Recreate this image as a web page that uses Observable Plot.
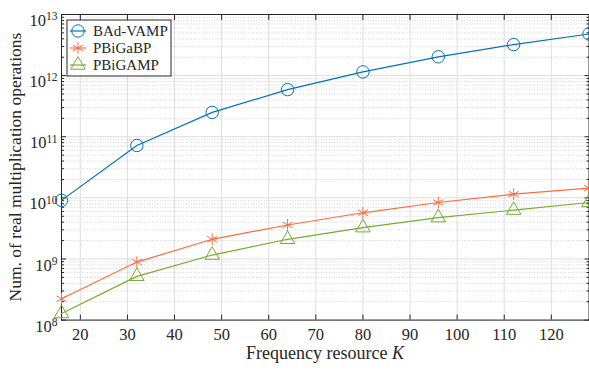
<!DOCTYPE html>
<html>
<head>
<meta charset="utf-8">
<script src="https://cdn.jsdelivr.net/npm/d3@7"></script>
<script src="https://cdn.jsdelivr.net/npm/@observablehq/plot@0.6"></script>
<style>
  html, body { margin: 0; padding: 0; background: #fff; }
</style>
</head>
<body>
<div id="chart"></div>
<script>
const K = [16, 32, 48, 64, 80, 96, 112, 128];
const badvamp = [9.1e9, 7.2e10, 2.5e11, 5.9e11, 1.15e12, 2.03e12, 3.22e12, 4.8e12];
const pbigabp = [2.23e8, 8.9e8, 2.1e9, 3.6e9, 5.7e9, 8.4e9, 1.15e10, 1.44e10];
const pbigamp = [1.28e8, 5.2e8, 1.16e9, 2.1e9, 3.25e9, 4.75e9, 6.3e9, 8.4e9];
const seriesNames = ["BAd-VAMP", "PBiGaBP", "PBiGAMP"];
const seriesColors = ["#0072bd", "#ff6a3d", "#77ac30"];
const seriesSymbols = ["circle", "asterisk", "triangle"];
const xTicks = [20, 30, 40, 50, 60, 70, 80, 90, 100, 110, 120];
const yMajor = [1e8, 1e9, 1e10, 1e11, 1e12, 1e13];
const yMinor = [];
for (let e = 8; e < 13; e++) for (let m = 2; m <= 9; m++) yMinor.push(m * Math.pow(10, e));

const seriesValues = [badvamp, pbigabp, pbigamp];
const data = [];
seriesValues.forEach((vals, i) => vals.forEach((v, j) => data.push({k: K[j], v, s: seriesNames[i]})));

const boxColor = "#262626";
const markerR = [6.2, 5.5, 5.4];
const fontStack = "'Liberation Serif', 'Times New Roman', serif";

const marks = [
  Plot.ruleY(yMinor, {stroke: "#c8c8c8", strokeDasharray: "1,1.6", strokeWidth: 0.8}),
  Plot.ruleY(yMajor, {stroke: "#dedede", strokeWidth: 1}),
  Plot.ruleX(xTicks, {stroke: "#dedede", strokeWidth: 1}),
  Plot.frame({stroke: boxColor, strokeWidth: 1}),
  // tick labels
  Plot.axisX({ticks: xTicks, tickSize: 0, tickPadding: 8, label: null, tickFormat: d => String(d)}),
  Plot.axisY({ticks: yMajor, tickSize: 0, tickPadding: 4, label: null, tickFormat: d => "10^" + Math.round(Math.log10(d))}),
  // inward ticks
  Plot.axisX({ticks: xTicks, anchor: "bottom", tickSize: -5, tickFormat: () => "", label: null, stroke: boxColor}),
  Plot.axisX({ticks: xTicks, anchor: "top", tickSize: -5, tickFormat: () => "", label: null, stroke: boxColor}),
  Plot.axisY({ticks: yMajor, anchor: "left", tickSize: -5, tickFormat: () => "", label: null, stroke: boxColor}),
  Plot.axisY({ticks: yMajor, anchor: "right", tickSize: -5, tickFormat: () => "", label: null, stroke: boxColor}),
  Plot.axisY({ticks: yMinor, anchor: "left", tickSize: -3, tickFormat: () => "", label: null, stroke: boxColor}),
  Plot.axisY({ticks: yMinor, anchor: "right", tickSize: -3, tickFormat: () => "", label: null, stroke: boxColor}),
];
seriesNames.forEach((name, i) => {
  const d = data.filter(r => r.s === name);
  marks.push(Plot.line(d, {x: "k", y: "v", stroke: seriesColors[i], strokeWidth: 1.2}));
  marks.push(Plot.dot(d, {x: "k", y: "v", stroke: seriesColors[i], symbol: () => seriesSymbols[i], r: markerR[i], strokeWidth: 1, fill: "none"}));
});

const chart = Plot.plot({
  width: 589,
  height: 370,
  marginLeft: 61,
  marginRight: 0.5,
  marginTop: 14,
  marginBottom: 50.4,
  style: {fontFamily: fontStack, fontSize: "16.5px", background: "#fff", color: "#262626"},
  x: {domain: [16, 128]},
  y: {type: "log", domain: [1e8, 1e13]},
  symbol: {type: "identity"},
  marks
});
document.getElementById("chart").appendChild(chart);

const svg = d3.select(chart);
svg.attr("overflow", "visible");
// superscript exponents
svg.selectAll("text").each(function() {
  const t = d3.select(this);
  const s = this.textContent;
  const m = /^10\^(\d+)$/.exec(s);
  if (m) {
    this.textContent = "";
    t.attr("font-size", "16.5px").attr("dy", "0.38em");
    t.append("tspan").text("10");
    t.append("tspan").attr("dy", "-0.5em").attr("font-size", "11.5px").text(m[1]);
  }
});

// axis titles
svg.append("text")
  .attr("x", 325).attr("y", 359)
  .attr("text-anchor", "middle")
  .attr("font-size", 18).attr("fill", "#262626")
  .attr("font-family", fontStack)
  .html('Frequency resource <tspan font-style="italic">K</tspan>');
svg.append("text")
  .attr("transform", "translate(21,167) rotate(-90)")
  .attr("text-anchor", "middle")
  .attr("font-size", 17.5).attr("fill", "#262626")
  .attr("font-family", fontStack)
  .text("Num. of real multiplication operations");

// legend
const lg = svg.append("g").attr("font-family", fontStack).attr("text-anchor", "start");
lg.append("rect").attr("x", 67).attr("y", 20).attr("width", 104).attr("height", 56)
  .attr("fill", "#fff").attr("stroke", boxColor).attr("stroke-width", 1);
const symGen = {circle: d3.symbolCircle, asterisk: d3.symbolAsterisk, triangle: d3.symbolTriangle};
seriesNames.forEach((name, i) => {
  const y = 31 + i * 17;
  lg.append("line").attr("x1", 70).attr("x2", 86).attr("y1", y).attr("y2", y)
    .attr("stroke", seriesColors[i]).attr("stroke-width", 1.2);
  const r = markerR[i];
  lg.append("path").attr("transform", `translate(78,${y})`)
    .attr("d", d3.symbol(symGen[seriesSymbols[i]], Math.PI * r * r)())
    .attr("fill", "none").attr("stroke", seriesColors[i]).attr("stroke-width", 1);
  lg.append("text").attr("x", 93).attr("y", y).attr("dy", "0.35em")
    .attr("text-anchor", "start")
    .attr("font-size", 15).attr("fill", "#262626").text(name);
});
</script>
</body>
</html>
